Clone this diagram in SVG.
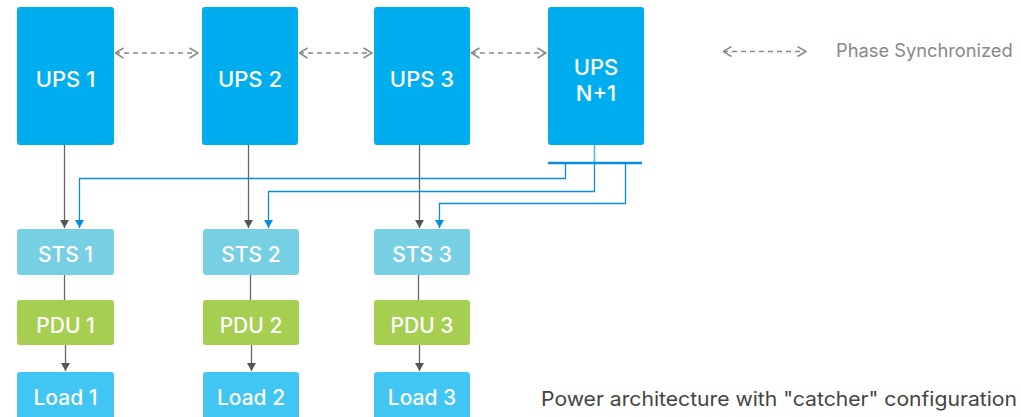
<svg xmlns="http://www.w3.org/2000/svg" width="1021" height="417" viewBox="0 0 1021 417">
<style>
.ups{fill:#00aeef}
.sts{fill:#76cfe2}
.pdu{fill:#a6ce50}
.load{fill:#41c6f4}
.lbl{font-family:Inter,"Liberation Sans",sans-serif;font-weight:500;fill:#ffffff;text-anchor:middle}
.big{font-size:22px}
.mid{font-size:21px}
.sync{fill:none;stroke:#888888;stroke-width:1.5;stroke-dasharray:5 4;marker-start:url(#chev);marker-end:url(#chev)}
.gray{fill:none;stroke:#666666;stroke-width:1.3}
.blue{fill:none;stroke:#0a8ce0;stroke-width:1.3}
.ga{marker-end:url(#gtri)}
.ba{marker-end:url(#btri)}
</style>
<defs>
<marker id="chev" markerUnits="userSpaceOnUse" viewBox="0 0 10 12" refX="9.5" refY="6" markerWidth="10" markerHeight="12" orient="auto-start-reverse">
<path d="M1,1 L9.5,6 L1,11" fill="none" stroke="#888888" stroke-width="1.5"/>
</marker>
<marker id="gtri" markerUnits="userSpaceOnUse" viewBox="0 0 8 9" refX="8" refY="4.5" markerWidth="8" markerHeight="9" orient="auto">
<path d="M0,0 L8,4.5 L0,9 z" fill="#555555"/>
</marker>
<marker id="btri" markerUnits="userSpaceOnUse" viewBox="0 0 8 9" refX="8" refY="4.5" markerWidth="8" markerHeight="9" orient="auto">
<path d="M0,0 L8,4.5 L0,9 z" fill="#0a8ce0"/>
</marker>
</defs>

<g id="connectors">
<line class="sync" x1="115" y1="53" x2="198" y2="53"/>
<line class="sync" x1="299" y1="53" x2="372" y2="53"/>
<line class="sync" x1="471" y1="53" x2="546" y2="53"/>
<line class="gray ga" x1="64.5" y1="145" x2="64.5" y2="228"/>
<line class="gray ga" x1="248.5" y1="145" x2="248.5" y2="228"/>
<line class="gray ga" x1="419.5" y1="145" x2="419.5" y2="228"/>
<line class="gray" x1="64.5" y1="275" x2="64.5" y2="300"/>
<line class="gray" x1="250.5" y1="275" x2="250.5" y2="300"/>
<line class="gray" x1="418.5" y1="275" x2="418.5" y2="300"/>
<line class="gray ga" x1="65.5" y1="345" x2="65.5" y2="371"/>
<line class="gray ga" x1="251.5" y1="345" x2="251.5" y2="371"/>
<line class="gray ga" x1="419.5" y1="345" x2="419.5" y2="371"/>
<line x1="594.5" y1="145" x2="594.5" y2="163" stroke="#55b2ea" stroke-width="1.5"/>
<line x1="548" y1="163" x2="642" y2="163" stroke="#0a8ce0" stroke-width="2.5"/>
<path class="blue ba" d="M565.5,163 V178.5 H79.5 V228"/>
<path class="blue ba" d="M594.5,163 V191.5 H268.5 V228"/>
<path class="blue ba" d="M625.5,163 V203.5 H439.5 V228"/>
</g>

<g id="ups1"><rect class="ups" x="17" y="7" width="97" height="138" rx="3"/><text class="lbl big" x="65.5" y="87">UPS 1</text></g>
<g id="ups2"><rect class="ups" x="202" y="7" width="96" height="138" rx="3"/><text class="lbl big" x="250" y="87">UPS 2</text></g>
<g id="ups3"><rect class="ups" x="374" y="7" width="96" height="138" rx="3"/><text class="lbl big" x="422" y="87">UPS 3</text></g>
<g id="upsn1"><rect class="ups" x="548" y="7" width="96" height="138" rx="3"/><text class="lbl big" x="596" y="75">UPS</text><text class="lbl big" x="596" y="101">N+1</text></g>

<g id="sts1"><rect class="sts" x="17" y="229" width="97" height="46" rx="3"/><text class="lbl mid" x="65.5" y="262">STS 1</text></g>
<g id="sts2"><rect class="sts" x="203" y="229" width="96" height="46" rx="3"/><text class="lbl mid" x="251" y="262">STS 2</text></g>
<g id="sts3"><rect class="sts" x="374" y="229" width="96" height="46" rx="3"/><text class="lbl mid" x="422" y="262">STS 3</text></g>

<g id="pdu1"><rect class="pdu" x="17" y="300" width="97" height="45" rx="3"/><text class="lbl mid" x="65.5" y="333">PDU 1</text></g>
<g id="pdu2"><rect class="pdu" x="203" y="300" width="96" height="45" rx="3"/><text class="lbl mid" x="251" y="333">PDU 2</text></g>
<g id="pdu3"><rect class="pdu" x="374" y="300" width="96" height="45" rx="3"/><text class="lbl mid" x="422" y="333">PDU 3</text></g>

<g id="load1"><rect class="load" x="17" y="372" width="97" height="48" rx="3"/><text class="lbl mid" x="65.5" y="405">Load 1</text></g>
<g id="load2"><rect class="load" x="203" y="372" width="96" height="48" rx="3"/><text class="lbl mid" x="251" y="405">Load 2</text></g>
<g id="load3"><rect class="load" x="374" y="372" width="96" height="48" rx="3"/><text class="lbl mid" x="422" y="405">Load 3</text></g>

<g id="legend">
<line class="sync" x1="723" y1="51.5" x2="806" y2="51.5" stroke-width="1.2"/>
<text x="836" y="57" font-family="Inter,'Liberation Sans',sans-serif" font-size="18.3" fill="#888888">Phase Synchronized</text>
</g>
<text id="title" x="541" y="406" font-family="Inter,'Liberation Sans',sans-serif" font-size="20" textLength="476" lengthAdjust="spacingAndGlyphs" fill="#444444">Power architecture with "catcher" configuration</text>
</svg>
